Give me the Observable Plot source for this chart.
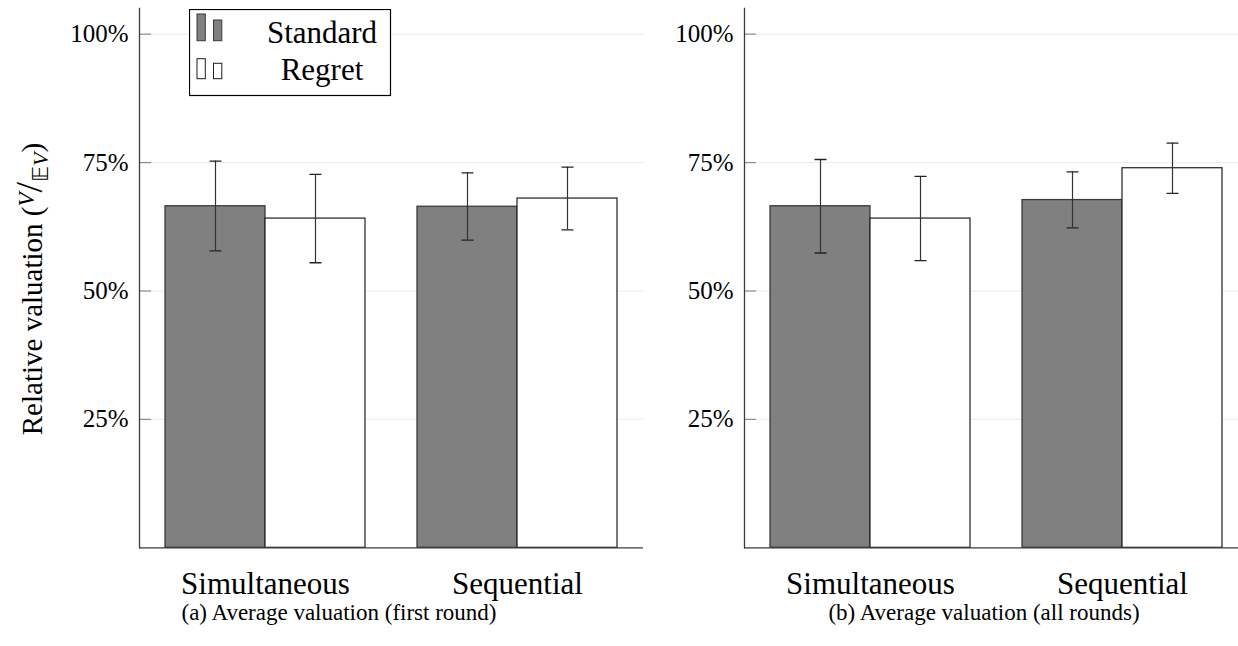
<!DOCTYPE html>
<html>
<head>
<meta charset="utf-8">
<script src="https://cdn.jsdelivr.net/npm/d3@7"></script>
<script src="https://cdn.jsdelivr.net/npm/@observablehq/plot@0.6"></script>
<style>
  html, body { margin: 0; padding: 0; width: 1238px; height: 646px; overflow: hidden; background: #fff; }
  #wrap { position: relative; width: 1238px; height: 646px; overflow: hidden; font-family: "Liberation Serif", "Times New Roman", serif; color: #000; }
  .panel { position: absolute; top: 0; }
  .panel svg { max-width: none; display: block; }
  .caption { position: absolute; font-size: 23px; line-height: 1; white-space: nowrap; transform: translateX(-50%); }
  #ytitle { position: absolute; left: 29px; top: 289px; font-size: 29px; line-height: 1; white-space: nowrap; transform: translate(-50%, -50%) rotate(-90deg); }
  #ytitle .num { font-style: italic; font-size: 23px; position: relative; top: -8px; }
  #ytitle .den { font-size: 22px; position: relative; top: 6px; }
  #ytitle .den i { font-style: italic; }
  #ytitle .sl { font-size: 38px; }
  #legend { position: absolute; left: 189px; top: 9px; }
</style>
</head>
<body>
<div id="wrap">
  <div id="left" class="panel"></div>
  <div id="right" class="panel"></div>
  <div id="ytitle">Relative valuation (<span class="num">V</span><span class="sl">/</span><span class="den">𝔼<i>V</i></span>)</div>
  <div id="capA" class="caption"></div>
  <div id="capB" class="caption"></div>
  <div id="legend"></div>
</div>
<script>
// ---- data (values in percent) ----
const groups = ["Simultaneous", "Sequential"];
const series = ["Standard", "Regret"];
const captions = ["(a) Average valuation (first round)", "(b) Average valuation (all rounds)"];
const yTicks = [25, 50, 75, 100];
// order: Simultaneous-Standard, Simultaneous-Regret, Sequential-Standard, Sequential-Regret
const firstMean = [66.5, 64.1, 66.4, 68.0];
const firstLow  = [57.8, 55.5, 59.9, 61.9];
const firstHigh = [75.3, 72.7, 73.0, 74.1];
const allMean   = [66.5, 64.1, 67.7, 73.9];
const allLow    = [57.4, 55.9, 62.3, 69.0];
const allHigh   = [75.6, 72.3, 73.2, 78.8];

function rows(mean, low, high) {
  const out = [];
  let k = 0;
  for (const g of groups) for (const s of series) {
    out.push({group: g, series: s, mean: mean[k], lo: low[k], hi: high[k]});
    k++;
  }
  return out;
}

const capShape = {draw(ctx, l) { ctx.moveTo(-l / 2, 0); ctx.lineTo(l / 2, 0); }};

function panel(data, marginLeft) {
  return Plot.plot({
    width: marginLeft + 505,
    height: 600,
    marginLeft, marginRight: 0, marginTop: 8, marginBottom: 52.7,
    style: {fontFamily: "Liberation Serif, Times New Roman, serif", fontSize: "25px", color: "#000", background: "transparent", overflow: "visible"},
    fx: {domain: groups, padding: 0, label: null, axis: null},
    x: {domain: series, paddingInner: 0, paddingOuter: 0.256, axis: null},
    y: {domain: [0, 105], axis: null},
    marks: [
      Plot.ruleY(yTicks, {stroke: "#ebebeb", strokeWidth: 1}),
      Plot.barY(data.filter(d => d.series === "Standard"), {fx: "group", x: "series", y: "mean", fill: "#808080", stroke: "#3a3a3a", strokeWidth: 1.3}),
      Plot.barY(data.filter(d => d.series === "Regret"), {fx: "group", x: "series", y: "mean", fill: "#ffffff", stroke: "#1e1e1e", strokeWidth: 1.2}),
      Plot.ruleX(data, {fx: "group", x: "series", y1: "lo", y2: "hi", stroke: "#333", strokeWidth: 1.2}),
      Plot.vector(data, {fx: "group", x: "series", y: "lo", length: 11, anchor: "start", shape: capShape, stroke: "#222", strokeWidth: 1.3}),
      Plot.vector(data, {fx: "group", x: "series", y: "hi", length: 11, anchor: "start", shape: capShape, stroke: "#222", strokeWidth: 1.3}),
      Plot.axisY({ticks: yTicks, tickSize: -12, tickFormat: () => "", stroke: "#8c8c8c", strokeWidth: 1.2, label: null}),
      Plot.axisY({ticks: yTicks, tickSize: 0, tickPadding: 11, tickFormat: d => `${d}%`, fontSize: 25, label: null}),
      Plot.frame({anchor: "left", facetAnchor: "left", stroke: "#3c3c3c", strokeWidth: 1.3}),
      Plot.ruleY([0], {stroke: "#3c3c3c", strokeWidth: 1.3}),
      Plot.axisFx({anchor: "bottom", tickSize: 0, tickPadding: 24, fontSize: 31, label: null})
    ]
  });
}

const leftEl = document.getElementById("left");
const rightEl = document.getElementById("right");
leftEl.style.left = "0px";
leftEl.appendChild(panel(rows(firstMean, firstLow, firstHigh), 138));
rightEl.style.left = "642.7px";
rightEl.appendChild(panel(rows(allMean, allLow, allHigh), 100));

// captions
const capA = document.getElementById("capA");
capA.textContent = captions[0];
capA.style.left = "339px"; capA.style.top = "601px";
const capB = document.getElementById("capB");
capB.textContent = captions[1];
capB.style.left = "984px"; capB.style.top = "601px";

// legend
const legendIcons = [
  {label: series[0], fill: "#808080", stroke: "#3a3a3a", bars: [[8, 5, 26.7], [24.5, 11, 20.7]], baseline: 33.7},
  {label: series[1], fill: "#ffffff", stroke: "#1e1e1e", bars: [[8, 49.7, 20], [24.5, 54.3, 15.4]], baseline: 71}
];
const ns = "http://www.w3.org/2000/svg";
const lsvg = document.createElementNS(ns, "svg");
lsvg.setAttribute("width", 203); lsvg.setAttribute("height", 88);
lsvg.style.display = "block";
const box = document.createElementNS(ns, "rect");
box.setAttribute("x", 0.5); box.setAttribute("y", 0.5); box.setAttribute("width", 201); box.setAttribute("height", 86);
box.setAttribute("fill", "#fff"); box.setAttribute("stroke", "#000"); box.setAttribute("stroke-width", 1.2);
lsvg.appendChild(box);
for (const item of legendIcons) {
  for (const [bx, by, bh] of item.bars) {
    const r = document.createElementNS(ns, "rect");
    r.setAttribute("x", bx); r.setAttribute("y", by); r.setAttribute("width", 8.3); r.setAttribute("height", bh);
    r.setAttribute("fill", item.fill); r.setAttribute("stroke", item.stroke); r.setAttribute("stroke-width", 1);
    lsvg.appendChild(r);
  }
  const t = document.createElementNS(ns, "text");
  t.setAttribute("x", 133); t.setAttribute("y", item.baseline);
  t.setAttribute("text-anchor", "middle");
  t.setAttribute("font-family", "Liberation Serif, Times New Roman, serif");
  t.setAttribute("font-size", 31);
  t.textContent = item.label;
  lsvg.appendChild(t);
}
document.getElementById("legend").appendChild(lsvg);
</script>
</body>
</html>
